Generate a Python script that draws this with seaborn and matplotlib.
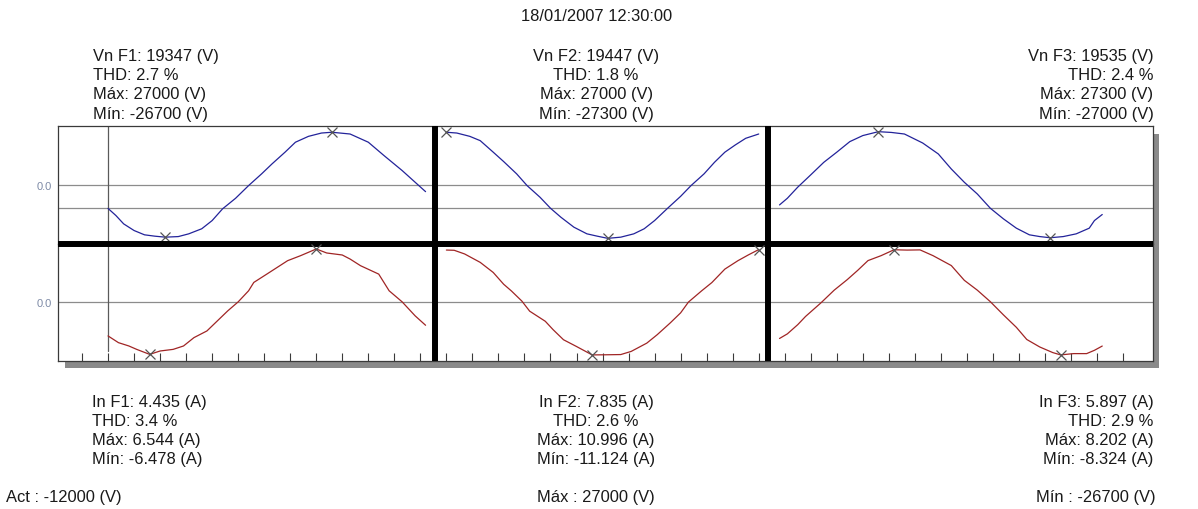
import numpy as np
import pandas as pd
import matplotlib
matplotlib.use("Agg")
import matplotlib.pyplot as plt
from matplotlib.patches import Rectangle
import seaborn as sns

# ---------------- measurement data ----------------
timestamp = "18/01/2007 12:30:00"
phases = ["F1", "F2", "F3"]
vn_rms = [19347, 19447, 19535]
vn_thd = [2.7, 1.8, 2.4]
vn_max = [27000, 27000, 27300]
vn_min = [-26700, -27300, -27000]
in_rms = [4.435, 7.835, 5.897]
in_thd = [3.4, 2.6, 2.9]
in_max = [6.544, 10.996, 8.202]
in_min = [-6.478, -11.124, -8.324]
cursor_v = -12000

# voltage waveforms (sample index within each capture, volts)
v1_n = [0, 3, 6, 10, 14, 18, 22, 27, 31, 36, 40, 44, 49, 54, 59, 63, 68, 72, 77, 82, 86, 93, 100, 106, 113, 118, 122]
v1 = [-12000, -15600, -19900, -23300, -25500, -26200, -26700, -26400, -25000, -22400, -18200, -12200, -6800, -300,
      5700, 10800, 16800, 21900, 24900, 26600, 27000, 26100, 21900, 15100, 7400, 1400, -3400]
v2_n = [0, 4, 9, 13, 18, 22, 27, 31, 36, 40, 44, 49, 54, 58, 62, 67, 72, 76, 80, 85, 90, 94, 99, 103, 107, 111, 115, 120]
v2 = [27000, 26600, 24900, 22700, 16800, 12000, 5700, -300, -6300, -11900, -16500, -21600, -25000, -26200,
      -27300, -26700, -25000, -22400, -18200, -11900, -5800, -300, 5700, 11600, 16800, 20500, 23900, 26100]
v3_n = [0, 3, 7, 12, 17, 22, 27, 32, 38, 43, 48, 55, 61, 66, 71, 76, 81, 86, 91, 96, 100, 104, 109, 114, 119, 121, 124]
v3 = [-10200, -6800, -1100, 5200, 11600, 16800, 22200, 25300, 27300, 26900, 26100, 21500, 15900, 8200, 1400,
      -4600, -11900, -17300, -22100, -25500, -26400, -27000, -26400, -25000, -22100, -18200, -15100]

# current waveforms (sample index within each capture, amperes)
i1_n = [0, 4, 8, 11, 16, 20, 25, 29, 33, 38, 42, 46, 50, 54, 56, 61, 65, 69, 74, 80, 84, 90, 93, 97, 104, 108, 113, 118, 122]
i1 = [-4.20, -5.03, -5.44, -5.86, -6.478, -6.06, -5.86, -5.44, -4.41, -3.58, -2.34, -1.10, 0.01, 1.38, 2.41,
      3.44, 4.27, 5.10, 5.72, 6.544, 6.05, 5.80, 5.30, 4.48, 3.44, 1.38, 0.01, -1.72, -2.88]
i2_n = [0, 3, 7, 13, 18, 22, 25, 29, 32, 38, 41, 45, 50, 56, 61, 67, 71, 77, 81, 86, 90, 93, 98, 102, 107, 112, 116, 120]
i2 = [10.90, 10.85, 10.08, 8.31, 6.19, 3.72, 2.30, 0.18, -1.94, -4.06, -5.82, -7.94, -9.36, -11.124, -11.10,
      -11.05, -10.39, -8.65, -6.88, -4.41, -2.29, -0.03, 2.30, 4.07, 6.90, 8.66, 9.87, 10.996]
i3_n = [0, 3, 7, 10, 16, 21, 26, 30, 34, 39, 44, 49, 54, 59, 66, 71, 76, 81, 86, 91, 95, 100, 105, 108, 113, 118, 121, 124]
i3 = [-5.74, -5.02, -3.57, -2.28, -0.11, 1.85, 3.50, 4.95, 6.50, 7.27, 8.202, 8.15, 8.18, 7.27, 5.72, 3.40,
      1.85, 0.04, -2.02, -3.99, -5.90, -7.08, -7.96, -8.324, -8.12, -8.12, -7.60, -6.93]

# ---------------- layout ----------------
W, H = 1198, 510
seg_start = [20, 150, 278]          # first sample of each capture on the common axis
separators = [145.5, 273.5]
x_lim = (0.77, 421.5)

BLUE = "#23239a"
RED = "#a02525"
GRID = "#8c8c8c"
FRAME = "#3a3a3a"
MARK = "#555555"
TXT = "#1a1a1a"


def box(x0, y0, x1, y1):
    return [x0 / W, 1 - y1 / H, (x1 - x0) / W, (y1 - y0) / H]


sns.set_style("white")
plt.rcParams["font.family"] = ["Liberation Sans", "DejaVu Sans"]

fig = plt.figure(figsize=(W / 100, H / 100), dpi=100)
fig.patch.set_facecolor("white")

# drop shadow behind the plotting frame
fig.patches.append(Rectangle((65 / W, 1 - 369 / H), (1159 - 65) / W, (369 - 135) / H,
                             transform=fig.transFigure, facecolor="#8a8a8a",
                             edgecolor="none", zorder=-5))

ax_v = fig.add_axes(box(58, 127, 1153, 245))
ax_i = fig.add_axes(box(58, 245, 1153, 362))
ax_v.set_facecolor("white")
ax_i.set_facecolor("white")

# voltage traces
v_waves = [(v1_n, v1), (v2_n, v2), (v3_n, v3)]
i_waves = [(i1_n, i1), (i2_n, i2), (i3_n, i3)]

for k, (n, v) in enumerate(v_waves):
    df = pd.DataFrame({"sample": np.asarray(n) + seg_start[k], "value": v})
    sns.lineplot(data=df, x="sample", y="value", ax=ax_v, color=BLUE, lw=0.9,
                 estimator=None, sort=False, zorder=3)
    arr = np.asarray(v)
    for j in (int(np.argmax(arr)), int(np.argmin(arr))):
        ax_v.plot(df["sample"].iloc[j], arr[j], marker="x", ms=6.5, mew=0.9,
                  color=MARK, zorder=4)

# current traces, each capture on its own full-scale axis
for k, (n, c) in enumerate(i_waves):
    axc = fig.add_axes(box(58, 245, 1153, 362))
    axc.patch.set_alpha(0)
    axc.axis("off")
    peak = max(abs(in_max[k]), abs(in_min[k]))
    df = pd.DataFrame({"sample": np.asarray(n) + seg_start[k], "value": c})
    sns.lineplot(data=df, x="sample", y="value", ax=axc, color=RED, lw=0.9,
                 estimator=None, sort=False, zorder=3)
    arr = np.asarray(c)
    for j in (int(np.argmax(arr)), int(np.argmin(arr))):
        axc.plot(df["sample"].iloc[j], arr[j], marker="x", ms=6.5, mew=0.9,
                 color=MARK, zorder=4)
    axc.set_xlim(*x_lim)
    axc.set_ylim(-1.115 * peak, 1.094 * peak)

# axis limits
for ax in (ax_v, ax_i):
    ax.set_xlim(*x_lim)
ax_v.set_ylim(-30200, 30200)
i_axis_peak = max(abs(in_max[1]), abs(in_min[1]))
ax_i.set_ylim(-1.115 * i_axis_peak, 1.094 * i_axis_peak)

# spines
for ax in (ax_v, ax_i):
    for s in ax.spines.values():
        s.set_color(FRAME)
        s.set_linewidth(0.9)
ax_v.spines["bottom"].set_visible(False)
top = ax_i.spines["top"]
top.set_color("black")
top.set_linewidth(4.3)
top.set_capstyle("butt")
top.set_zorder(6)

# y ticks: 5000 V / 5 A steps, only zero labelled
vt = np.arange(-25000, 25001, 5000)
ax_v.set_yticks(vt)
ax_v.set_yticklabels(["0.0" if t == 0 else "" for t in vt])
it = np.arange(-10, 11, 5)
ax_i.set_yticks(it)
ax_i.set_yticklabels(["0.0" if t == 0 else "" for t in it])
for ax in (ax_v, ax_i):
    ax.tick_params(axis="y", direction="in", length=5, width=0.8, color="black",
                   labelsize=8, labelcolor="#7d8aa6", pad=4.5)
    ax.set_xlabel("")
    ax.set_ylabel("")

ax_v.set_xticks([])
ax_i.set_xticks(np.arange(10, 411, 10))
ax_i.set_xticklabels([])
ax_i.tick_params(axis="x", direction="in", length=5.8, width=0.8, color=FRAME,
                 bottom=True, labelbottom=False)

# reference lines
ax_v.axhline(0, color=GRID, lw=0.9, zorder=1)
ax_v.axhline(cursor_v, color=GRID, lw=0.9, zorder=1)
ax_i.axhline(0, color=GRID, lw=0.9, zorder=1)
for xs in separators:
    ax_v.axvline(xs, color="black", lw=4.3, zorder=6, solid_capstyle="butt")
    ax_i.axvline(xs, color="black", lw=4.3, zorder=6, solid_capstyle="butt")
ax_v.axvline(seg_start[0], color="#5a5a5a", lw=0.9, zorder=2)
ax_i.axvline(seg_start[0], ymin=10 / 117, ymax=1, color="#5a5a5a", lw=0.9, zorder=2)

# ---------------- text ----------------
FS = 11.9


def put(x, y, s, ha):
    fig.text(x / W, 1 - y / H, s, ha=ha, va="baseline", fontsize=FS, color=TXT)


put(597, 21, timestamp, "center")

top_x = [93.5, 596, 1153.5]
bot_x = [92, 596, 1153.5]
col_ha = ["left", "center", "right"]
top_base = [60.5, 80, 99.5, 118.5]
bot_base = [407, 426, 445.5, 464.5]
for k, ph in enumerate(phases):
    top_lines = [f"Vn {ph}: {vn_rms[k]} (V)", f"THD: {vn_thd[k]:.1f} %",
                 f"Máx: {vn_max[k]} (V)", f"Mín: {vn_min[k]} (V)"]
    bot_lines = [f"In {ph}: {in_rms[k]:.3f} (A)", f"THD: {in_thd[k]:.1f} %",
                 f"Máx: {in_max[k]:.3f} (A)", f"Mín: {in_min[k]:.3f} (A)"]
    for yb, s in zip(top_base, top_lines):
        put(top_x[k], yb, s, col_ha[k])
    for yb, s in zip(bot_base, bot_lines):
        put(bot_x[k], yb, s, col_ha[k])

put(6.5, 502, f"Act : {cursor_v} (V)", "left")
put(596, 502, f"Máx : {vn_max[0]} (V)", "center")
put(1155.5, 502, f"Mín : {vn_min[0]} (V)", "right")

fig.savefig("out.png", dpi=100, facecolor="white")
